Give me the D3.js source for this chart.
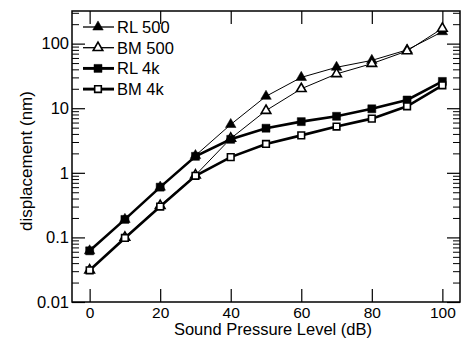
<!DOCTYPE html>
<html>
<head>
<meta charset="utf-8">
<script src="https://cdn.jsdelivr.net/npm/d3@7"></script>
<style>
  body { margin: 0; background: #fff; }
  text { font-family: "Liberation Sans", Arial, Helvetica, sans-serif; fill: #000; }
</style>
</head>
<body>
<div id="chart"></div>
<script>
// data
var spl = [0, 10, 20, 30, 40, 50, 60, 70, 80, 90, 100];
var rl500 = [0.062, 0.19, 0.6, 1.85, 5.6, 15.3, 30, 43, 55, 80, 153];
var bm500 = [0.031, 0.1, 0.31, 0.92, 3.4, 9.2, 20, 34, 49, 77, 172];
var rl4k = [0.062, 0.19, 0.6, 1.8, 3.3, 4.9, 6.2, 7.5, 9.8, 13.4, 26];
var bm4k = [0.031, 0.098, 0.3, 0.9, 1.75, 2.8, 3.8, 5.2, 6.9, 10.7, 22.6];
var xTicks = [0, 20, 40, 60, 80, 100];
var yTicks = [0.01, 0.1, 1, 10, 100];
var yTickLabels = ["0.01", "0.1", "1", "10", "100"];

var seriesNames = ["RL 500", "BM 500", "RL 4k", "BM 4k"];
var seriesValues = [rl500, bm500, rl4k, bm4k];
var seriesShape = ["triangle", "triangle", "square", "square"];
var seriesFilled = [true, false, true, false];
var seriesWidth = [1, 1, 2.6, 2.6];

var W = 461, H = 339;
var margin = {top: 11, right: 1, bottom: 37, left: 72},
    width = W - margin.left - margin.right,
    height = H - margin.top - margin.bottom;

var svg = d3.select("#chart").append("svg")
    .attr("width", W)
    .attr("height", H);

var g = svg.append("g")
    .attr("transform", "translate(" + margin.left + "," + margin.top + ")");

var x = d3.scaleLinear().domain([-5, 105]).range([0, width]);
var y = d3.scaleLog().domain([0.01, 320]).range([height, 0]);

// minor log ticks 2..9 per decade
var minor = [];
[0.01, 0.1, 1, 10, 100].forEach(function(dec) {
  for (var k = 2; k <= 9; k++) {
    if (dec * k <= 320) minor.push(dec * k);
  }
});

// axes: bottom, top, left, right (ticks pointing inward)
g.append("g")
    .attr("transform", "translate(0," + height + ")")
    .call(d3.axisBottom(x).tickValues(xTicks).tickSizeInner(-13).tickSizeOuter(0).tickPadding(4.5))
    .call(function(a) {
      a.select(".domain").remove();
      a.selectAll("line").attr("stroke-width", 1.2);
      a.selectAll("text").attr("font-size", "15.5px");
    });

g.append("g")
    .call(d3.axisTop(x).tickValues(xTicks).tickSizeInner(-13).tickSizeOuter(0).tickFormat(""))
    .call(function(a) {
      a.select(".domain").remove();
      a.selectAll("line").attr("stroke-width", 1.2);
    });

g.append("g")
    .call(d3.axisLeft(y).tickValues(yTicks).tickSizeInner(-13).tickSizeOuter(0).tickPadding(5)
      .tickFormat(function(d, i) { return yTickLabels[i]; }))
    .call(function(a) {
      a.select(".domain").remove();
      a.selectAll("line").attr("stroke-width", 1.2);
      a.selectAll("text").attr("font-size", "16.5px").attr("x", -3);
    });

g.append("g")
    .call(d3.axisLeft(y).tickValues(minor).tickSizeInner(-7).tickSizeOuter(0).tickFormat(""))
    .call(function(a) {
      a.select(".domain").remove();
      a.selectAll("line").attr("stroke-width", 1);
    });

g.append("g")
    .attr("transform", "translate(" + width + ",0)")
    .call(d3.axisRight(y).tickValues(yTicks).tickSizeInner(-13).tickSizeOuter(0).tickFormat(""))
    .call(function(a) {
      a.select(".domain").remove();
      a.selectAll("line").attr("stroke-width", 1.2);
    });

g.append("g")
    .attr("transform", "translate(" + width + ",0)")
    .call(d3.axisRight(y).tickValues(minor).tickSizeInner(-7).tickSizeOuter(0).tickFormat(""))
    .call(function(a) {
      a.select(".domain").remove();
      a.selectAll("line").attr("stroke-width", 1);
    });

// frame
g.append("rect")
    .attr("width", width)
    .attr("height", height)
    .attr("fill", "none")
    .attr("stroke", "#000")
    .attr("stroke-width", 1.5);

// series
var line = d3.line()
    .x(function(d) { return x(d[0]); })
    .y(function(d) { return y(d[1]); });

function symbolFor(i) {
  if (seriesShape[i] === "triangle") {
    return d3.symbol().type(d3.symbolTriangle).size(seriesFilled[i] ? 48 : 40)();
  }
  return d3.symbol().type(d3.symbolSquare).size(seriesFilled[i] ? 64 : 44)();
}

seriesValues.forEach(function(vals, i) {
  var pts = spl.map(function(s, j) { return [s, vals[j]]; });
  g.append("path")
      .datum(pts)
      .attr("fill", "none")
      .attr("stroke", "#000")
      .attr("stroke-width", seriesWidth[i])
      .attr("d", line);
  g.selectAll(".m" + i)
      .data(pts)
      .enter().append("path")
      .attr("class", "m" + i)
      .attr("transform", function(d) { return "translate(" + x(d[0]) + "," + y(d[1]) + ")"; })
      .attr("d", symbolFor(i))
      .attr("fill", seriesFilled[i] ? "#000" : "#fff")
      .attr("stroke", "#000")
      .attr("stroke-width", seriesFilled[i] ? 0.5 : 1.6);
});

// legend
var legend = g.append("g").attr("transform", "translate(11,16)");
seriesNames.forEach(function(name, i) {
  var row = legend.append("g").attr("transform", "translate(0," + (i * 20.7) + ")");
  row.append("line")
      .attr("x1", 0).attr("x2", 31)
      .attr("stroke", "#000")
      .attr("stroke-width", seriesWidth[i] + 0.3);
  row.append("path")
      .attr("transform", "translate(15,0)")
      .attr("d", symbolFor(i))
      .attr("fill", seriesFilled[i] ? "#000" : "#fff")
      .attr("stroke", "#000")
      .attr("stroke-width", seriesFilled[i] ? 0.5 : 1.6);
  row.append("text")
      .attr("x", 34)
      .attr("dy", "0.36em")
      .attr("font-size", "16.5px")
      .text(name);
});

// axis titles
svg.append("text")
    .attr("x", margin.left + width / 2 + 7)
    .attr("y", 335.2)
    .attr("text-anchor", "middle")
    .attr("font-size", "16.5px")
    .text("Sound Pressure Level (dB)");

svg.append("text")
    .attr("transform", "translate(32," + 161 + ") rotate(-90)")
    .attr("text-anchor", "middle")
    .attr("font-size", "17px")
    .text("displacement (nm)");
</script>
</body>
</html>
